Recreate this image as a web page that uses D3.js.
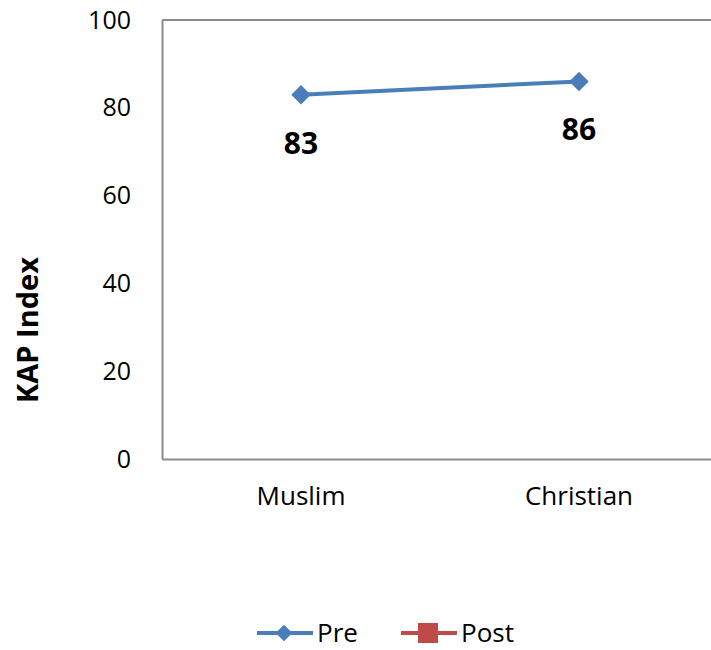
<!DOCTYPE html>
<html>
<head>
<meta charset="utf-8">
<script src="https://cdn.jsdelivr.net/npm/d3@7"></script>
<style>
  body { margin: 0; background: #fff; }
  svg { display: block; font-family: "Open Sans", "Noto Sans", sans-serif; }
</style>
</head>
<body>
<svg id="chart" width="711" height="650"></svg>
<script>
// KAP index by religion, before and after the intervention
const categories = ["Muslim", "Christian"];
const preValues = [83, 86];
const postValues = [];           // no post-intervention values reported
const yTicks = [0, 20, 40, 60, 80, 100];
const seriesNames = ["Pre", "Post"];
const seriesColors = ["#4a7ebb", "#be4b48"];

const FONT = '"Open Sans", "Noto Sans", sans-serif';
const svg = d3.select("#chart");
const margin = { left: 162, top: 20, right: -7, bottom: 191 };
const W = 711, H = 650;
const innerW = W - margin.left - margin.right;
const innerH = H - margin.top - margin.bottom;

const x = d3.scaleBand().domain(categories).range([margin.left, margin.left + innerW]);
const y = d3.scaleLinear().domain([0, 100]).range([margin.top + innerH, margin.top]);

// plot frame top edge
const axisColor = "#8c8c8c";
svg.append("line").attr("x1", margin.left).attr("x2", W)
  .attr("y1", y(100)).attr("y2", y(100)).attr("stroke", axisColor).attr("stroke-width", 2);

// y axis
const yAxis = d3.axisLeft(y).tickValues(yTicks).tickSize(0).tickPadding(31).tickFormat(d3.format("d"));
const gy = svg.append("g").attr("transform", `translate(${margin.left},0)`).call(yAxis)
  .attr("font-family", FONT);
gy.select(".domain").attr("stroke", axisColor).attr("stroke-width", 2);
gy.selectAll("text").attr("font-size", 25).attr("fill", "#000");

// x axis
const xAxis = d3.axisBottom(x).tickSize(0).tickPadding(28);
const gx = svg.append("g").attr("transform", `translate(0,${y(0)})`).call(xAxis)
  .attr("font-family", FONT);
gx.select(".domain").attr("stroke", axisColor).attr("stroke-width", 2);
gx.selectAll("text").attr("font-size", 26).attr("fill", "#000");

// y axis title
svg.append("text")
  .attr("transform", `translate(38,330) rotate(-90)`)
  .attr("text-anchor", "middle")
  .attr("font-size", 29).attr("font-weight", "bold")
  .text("KAP Index");

// Pre series line
const pts = categories.map((c, i) => ({ c, v: preValues[i] }));
const cx = d => x(d.c) + x.bandwidth() / 2;
const line = d3.line().x(cx).y(d => y(d.v));
svg.append("path").datum(pts).attr("d", line)
  .attr("fill", "none").attr("stroke", seriesColors[0]).attr("stroke-width", 4);

// diamond markers
svg.selectAll(".pre-marker").data(pts).join("path")
  .attr("class", "pre-marker")
  .attr("transform", d => `translate(${cx(d)},${y(d.v)}) rotate(45)`)
  .attr("d", d3.symbol().type(d3.symbolSquare).size(190))
  .attr("fill", seriesColors[0]);

// value labels
svg.selectAll(".pre-label").data(pts).join("text")
  .attr("class", "pre-label")
  .attr("x", cx)
  .attr("y", d => y(d.v) + 59)
  .attr("text-anchor", "middle")
  .attr("font-size", 30).attr("font-weight", "bold")
  .text(d => d.v);

// legend
const legend = [
  { name: seriesNames[0], color: seriesColors[0], lx: 257, marker: "diamond" },
  { name: seriesNames[1], color: seriesColors[1], lx: 401, marker: "square" }
];
const ly = 633;
const lg = svg.append("g");
legend.forEach(l => {
  lg.append("line").attr("x1", l.lx).attr("x2", l.lx + 56)
    .attr("y1", ly).attr("y2", ly).attr("stroke", l.color).attr("stroke-width", 4);
  if (l.marker === "diamond") {
    lg.append("path").attr("transform", `translate(${l.lx + 27},${ly}) rotate(45)`)
      .attr("d", d3.symbol().type(d3.symbolSquare).size(140)).attr("fill", l.color);
  } else {
    lg.append("path").attr("transform", `translate(${l.lx + 27},${ly})`)
      .attr("d", d3.symbol().type(d3.symbolSquare).size(400)).attr("fill", l.color);
  }
  lg.append("text").attr("x", l.lx + 60).attr("y", 642)
    .attr("font-size", 26).text(l.name);
});
</script>
</body>
</html>
